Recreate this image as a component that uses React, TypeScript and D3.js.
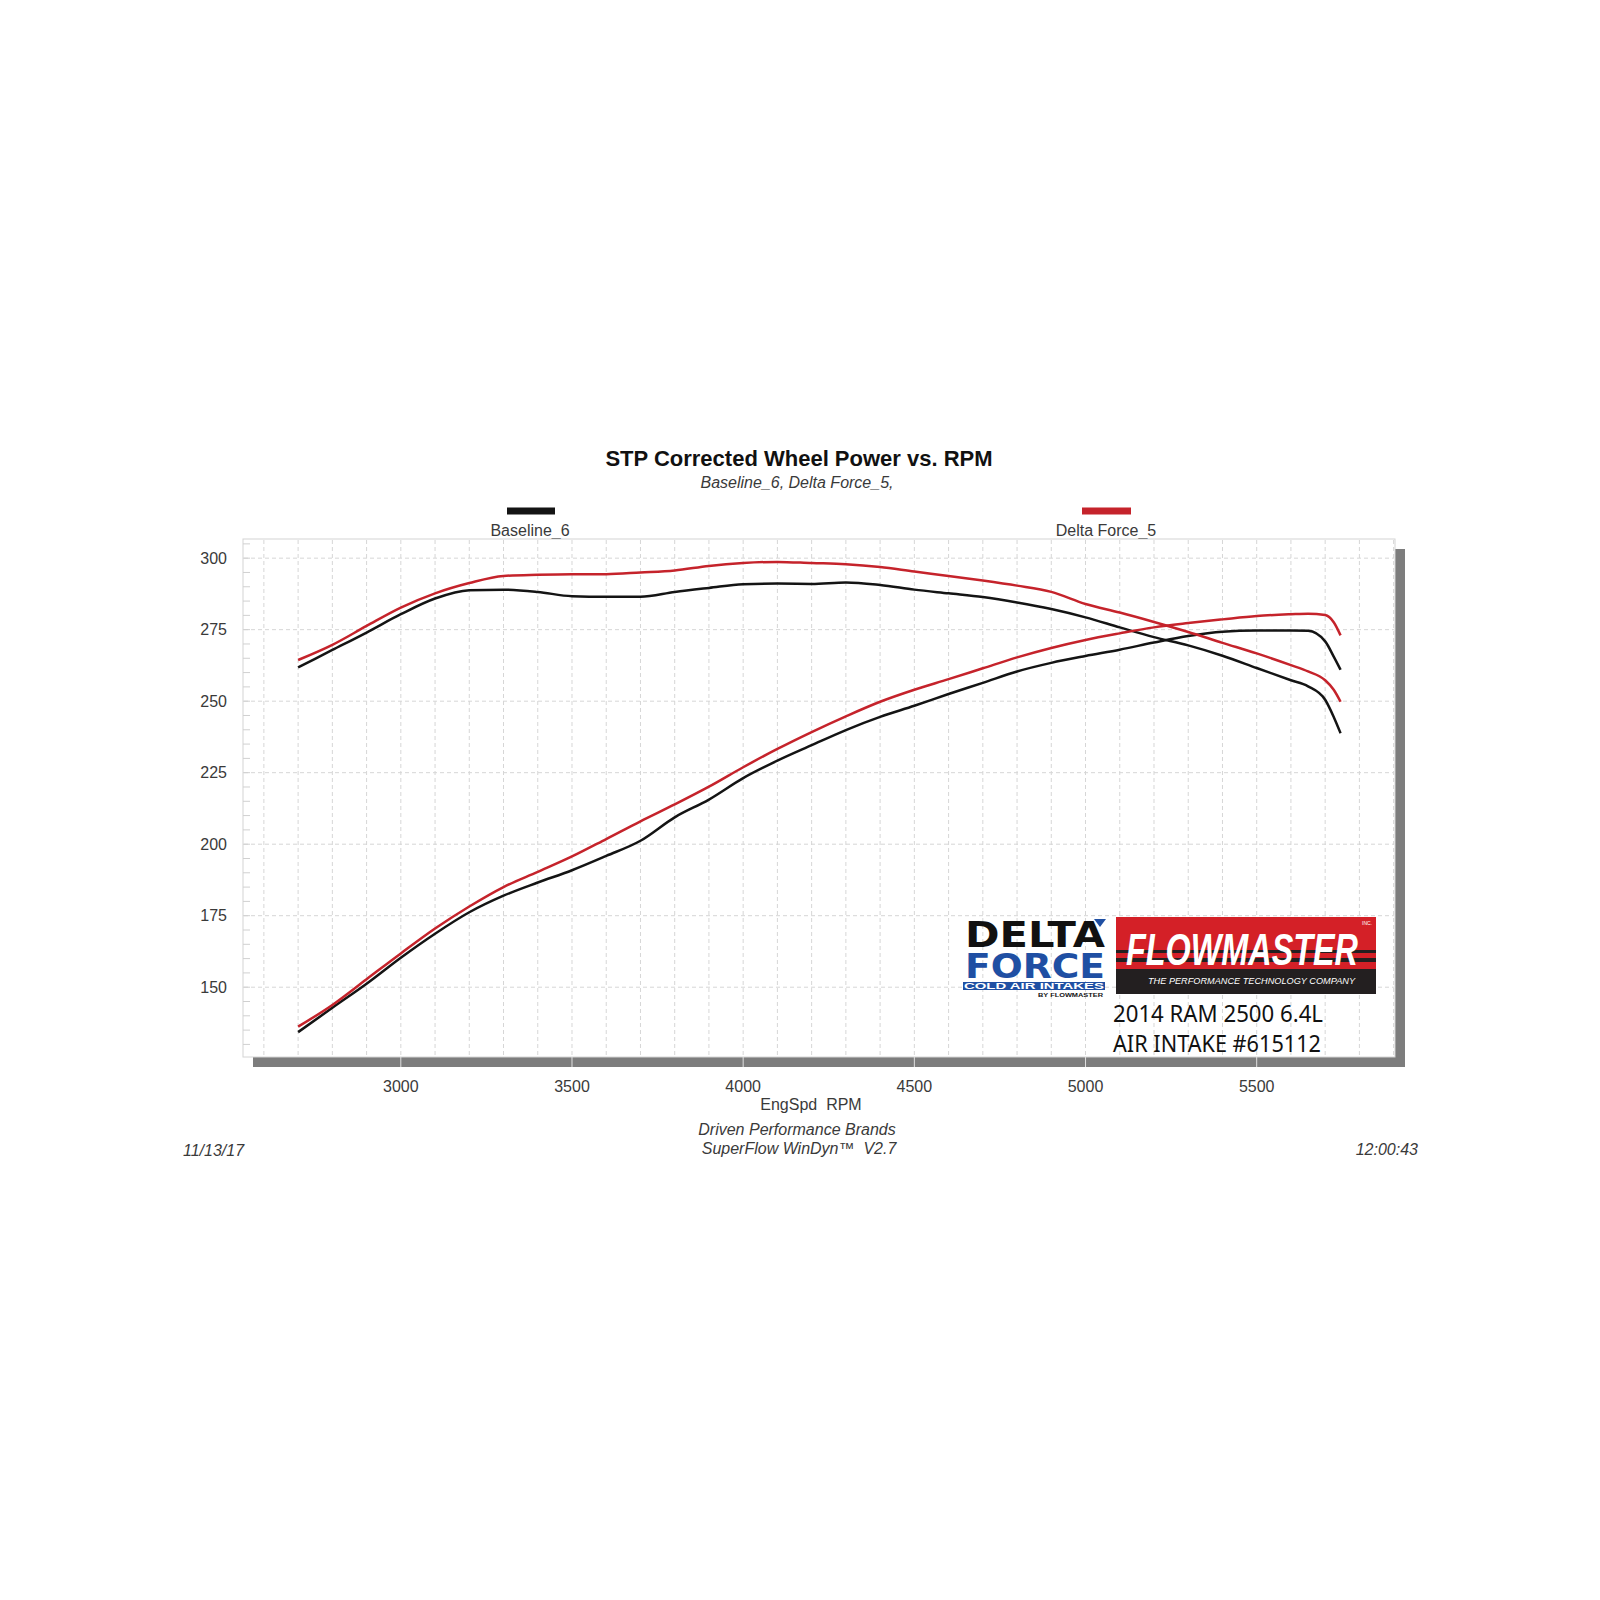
import React from "react";
import * as d3 from "d3";

const rpm = [2700, 2800, 2900, 3000, 3100, 3200, 3300, 3400, 3500, 3600, 3700, 3800, 3900, 4000, 4100, 4200, 4300, 4400, 4500, 4600, 4700, 4800, 4900, 5000, 5100, 5200, 5300, 5400, 5500, 5600, 5650, 5700, 5725, 5745];

const baselineTorque = [261.8, 267.9, 274.0, 280.4, 285.9, 288.8, 289.0, 288.2, 286.7, 286.5, 286.5, 288.2, 289.6, 290.9, 291.1, 291.0, 291.5, 290.6, 289.0, 287.7, 286.4, 284.5, 282.2, 279.3, 275.8, 272.4, 269.5, 265.9, 261.6, 257.3, 255.2, 250.5, 244.5, 238.8];
const baselinePower = [134.3, 142.8, 151.2, 160.3, 168.7, 176.2, 182.0, 186.6, 190.9, 195.9, 201.2, 209.4, 215.6, 223.1, 229.2, 234.6, 239.9, 244.5, 248.4, 252.5, 256.4, 260.4, 263.4, 265.8, 268.0, 270.5, 272.8, 274.3, 274.7, 274.7, 274.6, 270.9, 265.6, 261.0];
const deltaTorque = [264.4, 269.7, 276.3, 282.7, 287.7, 291.3, 293.8, 294.2, 294.4, 294.4, 295.0, 295.7, 297.3, 298.3, 298.7, 298.3, 297.9, 296.9, 295.3, 293.8, 292.2, 290.4, 288.2, 284.0, 281.0, 277.7, 274.2, 270.4, 266.7, 262.6, 260.4, 257.3, 254.0, 249.8];
const deltaPower = [136.2, 143.8, 152.8, 161.8, 170.5, 178.2, 185.0, 190.3, 195.7, 201.8, 208.0, 213.9, 220.1, 226.9, 233.3, 239.2, 244.7, 249.8, 254.0, 257.7, 261.5, 265.3, 268.6, 271.4, 273.7, 275.8, 277.3, 278.6, 279.8, 280.4, 280.6, 280.1, 277.6, 273.0];

const yTicks = [150, 175, 200, 225, 250, 275, 300];
const xTicks = [3000, 3500, 4000, 4500, 5000, 5500];
const seriesNames = ["Baseline_6", "Delta Force_5"];
const seriesColors = ["#141414", "#c5232b"];

const PL = 243, PR = 1395, PT = 539, PB = 1057;

export default function App() {
  const x = d3.scaleLinear().domain([2539, 5904]).range([PL, PR]);
  const y = d3.scaleLinear().domain([125.6, 306.7]).range([PB, PT]);
  const line = (vals: number[]) =>
    d3.line<number>().x((_, i) => x(rpm[i])).y((v) => y(v)).curve(d3.curveMonotoneX)(vals) || "";

  const vGrid = d3.range(2600, 5901, 100);
  const minorY = d3.range(130, 306, 5);
  const series = [
    { vals: baselinePower, c: seriesColors[0] },
    { vals: baselineTorque, c: seriesColors[0] },
    { vals: deltaPower, c: seriesColors[1] },
    { vals: deltaTorque, c: seriesColors[1] },
  ];
  const txt = "#3a3a3a";
  const font = "'Liberation Sans', Arial, sans-serif";

  return (
    <svg width={1600} height={1600} style={{ position: "absolute", left: 0, top: 0, background: "#fff" }} fontFamily={font}>
      <rect x={0} y={0} width={1600} height={1600} fill="#fff" />
      {/* title */}
      <text x={799} y={466} textAnchor="middle" fontSize={22} fontWeight="bold" fill="#111">STP Corrected Wheel Power vs. RPM</text>
      <text x={797} y={488} textAnchor="middle" fontSize={16} fontStyle="italic" fill={txt}>Baseline_6, Delta Force_5,</text>
      {/* legend */}
      <rect x={507} y={507.5} width={48} height={7} fill={seriesColors[0]} />
      <text x={530} y={536} textAnchor="middle" fontSize={16} fill={txt}>{seriesNames[0]}</text>
      <rect x={1082} y={507.5} width={49} height={7} fill={seriesColors[1]} />
      <text x={1106} y={536} textAnchor="middle" fontSize={16} fill={txt}>{seriesNames[1]}</text>

      {/* shadow + plot */}
      <rect x={PL + 10} y={PT + 10} width={PR - PL} height={PB - PT} fill="#7d7d7d" />
      <rect x={PL} y={PT} width={PR - PL} height={PB - PT} fill="#fff" stroke="#d4d4d4" strokeWidth={1} />
      {vGrid.map((r) => (
        <line key={"v" + r} x1={x(r)} x2={x(r)} y1={PT + 1} y2={PB - 1} stroke="#d6d6d6" strokeDasharray="4,3" strokeWidth={1} />
      ))}
      {yTicks.map((t) => (
        <line key={"h" + t} x1={PL + 1} x2={PR - 1} y1={y(t)} y2={y(t)} stroke="#d6d6d6" strokeDasharray="4,3" strokeWidth={1} />
      ))}
      {minorY.map((t) => (
        <line key={"m" + t} x1={PL} x2={PL + 7} y1={y(t)} y2={y(t)} stroke="#d0d0d0" strokeWidth={1} />
      ))}
      {xTicks.map((t) => (
        <line key={"xt" + t} x1={x(t)} x2={x(t)} y1={PB} y2={PB + 10} stroke="#e0e0e0" strokeWidth={1} />
      ))}
      {/* axis labels */}
      {yTicks.map((t) => (
        <text key={"yl" + t} x={227} y={y(t) + 5.5} textAnchor="end" fontSize={16} fill={txt}>{t}</text>
      ))}
      {xTicks.map((t) => (
        <text key={"xl" + t} x={x(t)} y={1092} textAnchor="middle" fontSize={16} fill={txt}>{t}</text>
      ))}
      <text x={811} y={1110} textAnchor="middle" fontSize={16} fill={txt} style={{ whiteSpace: "pre" }}>EngSpd  RPM</text>
      <text x={797} y={1135} textAnchor="middle" fontSize={16} fontStyle="italic" fill={txt}>Driven Performance Brands</text>
      <text x={799} y={1154} textAnchor="middle" fontSize={16} fontStyle="italic" fill={txt} style={{ whiteSpace: "pre" }}>SuperFlow WinDyn™  V2.7</text>
      <text x={183} y={1156} fontSize={16} fontStyle="italic" fill={txt}>11/13/17</text>
      <text x={1418} y={1155} textAnchor="end" fontSize={16} fontStyle="italic" fill={txt}>12:00:43</text>

      {/* logos */}
      <g>
        <text x={965} y={947} fontSize={35} fontWeight="bold" fontFamily="'DejaVu Sans', sans-serif" fill="#111" textLength={140} lengthAdjust="spacingAndGlyphs">DELTA</text>
        <polygon points="1094,919 1106,919 1100,927" fill="#1f4fa3" />
        <text x={965} y={978} fontSize={34} fontWeight="bold" fontFamily="'DejaVu Sans', sans-serif" fill="#1f4fa3" textLength={140} lengthAdjust="spacingAndGlyphs">FORCE</text>
        <rect x={963} y={982} width={142} height={8} fill="#1f4fa3" />
        <text x={964} y={989.3} fontSize={8.5} fontWeight="bold" fill="#fff" textLength={140} lengthAdjust="spacingAndGlyphs">COLD AIR INTAKES</text>
        <text x={1038} y={996.5} fontSize={4.5} fontWeight="bold" fill="#111" textLength={65} lengthAdjust="spacingAndGlyphs">BY FLOWMASTER</text>

        <rect x={1116} y={917} width={260} height={77} fill="#d42027" />
        <rect x={1116} y={969} width={260} height={25} fill="#231f20" />
        <rect x={1116} y={950} width={260} height={3} fill="#231f20" />
        <rect x={1116} y={958} width={260} height={4} fill="#231f20" />
        <text x={1126} y={965} fontSize={45} fontWeight="bold" fontStyle="italic" fill="#fff" textLength={232} lengthAdjust="spacingAndGlyphs">FLOWMASTER</text>
        <text x={1362} y={925} fontSize={5} fill="#fff">INC.</text>
        <text x={1148} y={984} fontSize={9.5} fontStyle="italic" fill="#fff" textLength={207} lengthAdjust="spacingAndGlyphs">THE PERFORMANCE TECHNOLOGY COMPANY</text>

        <text x={1113} y={1022} fontSize={23} fontFamily="'Noto Sans', sans-serif" fill="#111" textLength={210} lengthAdjust="spacingAndGlyphs">2014 RAM 2500 6.4L</text>
        <text x={1113} y={1052} fontSize={23} fontFamily="'Noto Sans', sans-serif" fill="#111" textLength={208} lengthAdjust="spacingAndGlyphs">AIR INTAKE #615112</text>
      </g>

      {/* curves */}
      {series.map((s, i) => (
        <path key={"s" + i} d={line(s.vals)} fill="none" stroke={s.c} strokeWidth={2.5} strokeLinejoin="round" />
      ))}
    </svg>
  );
}
